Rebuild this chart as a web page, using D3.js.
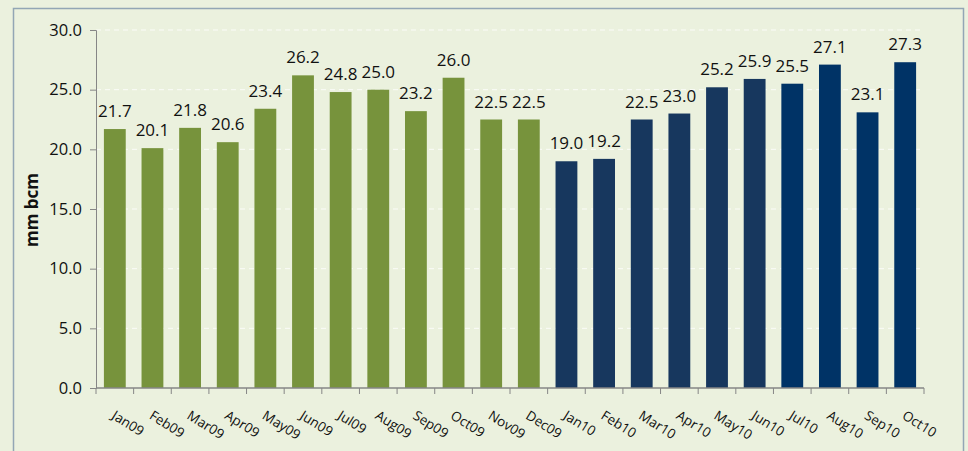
<!DOCTYPE html>
<html lang="en">
<head>
<meta charset="utf-8">
<title>mm bcm</title>
<script src="https://d3js.org/d3.v7.min.js"></script>
<style>
    body { margin: 0; background: #ebf1de; font-family: "Open Sans", "Noto Sans", sans-serif; }
    svg { display: block; }
</style>
</head>
<body>
<svg id="chart" width="968" height="451"></svg>
<script>
    const months = ["Jan09","Feb09","Mar09","Apr09","May09","Jun09","Jul09","Aug09","Sep09","Oct09","Nov09","Dec09",
                    "Jan10","Feb10","Mar10","Apr10","May10","Jun10","Jul10","Aug10","Sep10","Oct10"];
    const values = [21.7,20.1,21.8,20.6,23.4,26.2,24.8,25.0,23.2,26.0,22.5,22.5,
                    19.0,19.2,22.5,23.0,25.2,25.9,25.5,27.1,23.1,27.3];
    const yTicks = [0,5,10,15,20,25,30];

    const svg = d3.select("#chart");
    const margin = { left: 96, right: 40, top: 30, bottom: 63 };
    const width = 968, height = 451;

    // outer frame
    svg.append("rect")
        .attr("x", 13.5).attr("y", 8.5)
        .attr("width", 950).attr("height", 460)
        .attr("fill", "#ebf1de")
        .attr("stroke", "#93a6b5").attr("stroke-width", 1.5);

    const x = d3.scaleBand()
        .domain(months)
        .range([margin.left, width - margin.right - 4])
        .paddingInner(0.42).paddingOuter(0.21);

    const y = d3.scaleLinear()
        .domain([0, 30])
        .range([388, 30]);

    // gridlines
    svg.append("g")
        .selectAll("line")
        .data(yTicks.filter(d => d > 0))
        .enter().append("line")
        .attr("x1", margin.left).attr("x2", x.range()[1])
        .attr("y1", d => y(d)).attr("y2", d => y(d))
        .attr("stroke", "#fbfcf8").attr("stroke-width", 1)
        .attr("stroke-dasharray", "5,4");

    const barColor = (d, i) => i < 12 ? "#77933c" : (i < 18 ? "#17375e" : "#003366");

    svg.append("g")
        .selectAll("rect")
        .data(values)
        .enter().append("rect")
        .attr("x", (d, i) => x(months[i]))
        .attr("y", d => y(d))
        .attr("width", x.bandwidth())
        .attr("height", d => y(0) - y(d))
        .attr("fill", barColor);

    // value labels
    svg.append("g")
        .selectAll("text")
        .data(values)
        .enter().append("text")
        .attr("x", (d, i) => x(months[i]) + x.bandwidth() / 2)
        .attr("y", d => y(d) - 12)
        .attr("text-anchor", "middle")
        .attr("font-size", 17)
        .attr("fill", "#111")
        .text(d => d.toFixed(1));

    // y axis
    const yAxis = svg.append("g")
        .attr("transform", `translate(${margin.left},0)`)
        .call(d3.axisLeft(y).tickValues(yTicks).tickFormat(d3.format(".1f")).tickSize(6).tickPadding(8));
    yAxis.select(".domain").attr("stroke", "#868686");
    yAxis.selectAll(".tick line").attr("stroke", "#868686");
    yAxis.selectAll(".tick text").attr("font-size", 16.5).attr("fill", "#111")
        .attr("font-family", "\"Open Sans\", sans-serif");

    // x axis
    const xAxis = svg.append("g")
        .attr("transform", `translate(0,${y(0)})`);
    xAxis.append("line")
        .attr("x1", margin.left).attr("x2", x.range()[1])
        .attr("stroke", "#868686").attr("stroke-width", 1.5);
    const step = x.step();
    xAxis.selectAll("line.tk")
        .data(d3.range(months.length + 1))
        .enter().append("line")
        .attr("class", "tk")
        .attr("x1", i => margin.left + i * step).attr("x2", i => margin.left + i * step)
        .attr("y1", 0).attr("y2", 6)
        .attr("stroke", "#868686");
    xAxis.selectAll("text")
        .data(months)
        .enter().append("text")
        .attr("transform", d => `translate(${x(d) + x.bandwidth() / 2 - 4},${30}) rotate(32)`)
        .attr("font-size", 13.5)
        .attr("fill", "#111")
        .text(d => d);

    // y label
    svg.append("text")
        .attr("transform", "translate(38,210) rotate(-90)")
        .attr("text-anchor", "middle")
        .attr("font-size", 17)
        .attr("font-weight", "bold")
        .attr("fill", "#111")
        .text("mm bcm");
</script>
</body>
</html>
